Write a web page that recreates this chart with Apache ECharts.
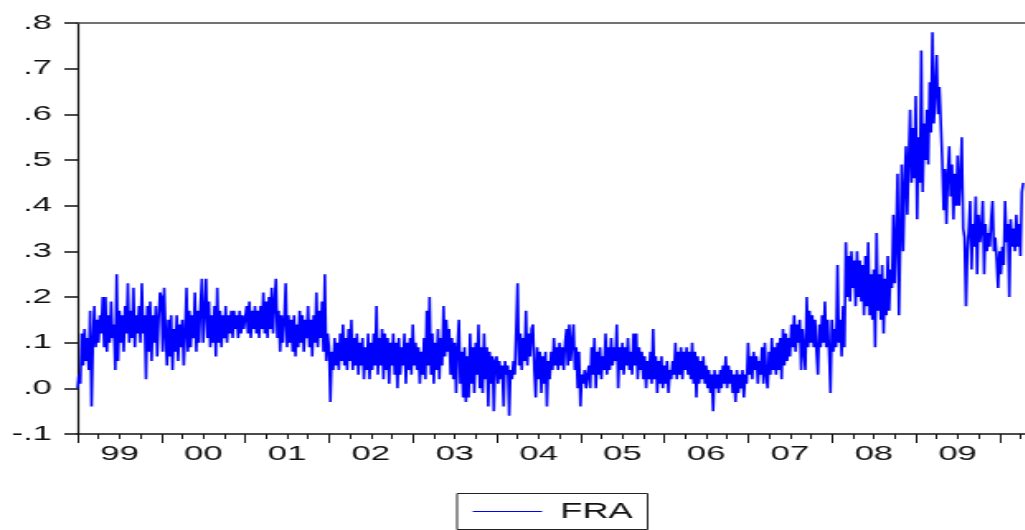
<!DOCTYPE html>
<html>
<head>
<meta charset="utf-8">
<title>FRA</title>
<script src="https://cdn.jsdelivr.net/npm/echarts@6/dist/echarts.min.js"></script>
<style>
  html, body { margin: 0; padding: 0; background: #fff; overflow: hidden; }
  #wrap { width: 1025px; height: 530px; overflow: hidden; position: relative; background: #fff; }
  /* the graph is laid out narrow and widened, like an exported EViews graph */
  #chart { width: 622px; height: 530px; transform: scaleX(1.65); transform-origin: 0 0; }
</style>
</head>
<body>
<div id="wrap"><div id="chart"></div></div>
<script>
// FRA, daily observations thinned to 60 readings per year (1999 - early 2010)
const fra1999 = [.00,.03,.01,.12,.05,.13,.06,.11,.04,.17, -.04,.10,.18,.09,.15,.10,.16,.12,.20,.09,
                 .20,.08,.16,.10,.19,.11,.14,.04,.25,.06, .17,.10,.16,.08,.18,.12,.23,.10,.17,.11,
                 .22,.09,.16,.12,.18,.10,.23,.12,.16,.02, .18,.08,.19,.06,.16,.10,.18,.07,.15,.21];
const fra2000 = [.20,.08,.22,.12,.05,.15,.07,.16,.04,.13, .08,.16,.06,.14,.09,.15,.05,.12,.22,.08,
                 .17,.09,.16,.11,.21,.08,.17,.10,.18,.24, .10,.17,.24,.11,.19,.09,.16,.10,.18,.07,
                 .22,.10,.17,.09,.16,.11,.18,.10,.16,.12, .17,.11,.17,.13,.16,.11,.17,.12,.16,.13];
const fra2001 = [.13,.18,.12,.19,.11,.17,.13,.18,.12,.17, .11,.18,.13,.21,.12,.19,.11,.20,.13,.22,
                 .12,.19,.24,.11,.17,.08,.16,.10,.15,.23, .09,.16,.10,.15,.08,.16,.07,.14,.09,.17,
                 .10,.16,.08,.15,.11,.18,.09,.15,.07,.16, .10,.21,.09,.17,.11,.19,.08,.25,.06,.12];
const fra2002 = [.09,-.03,.08,.04,.11,.05,.10,.04,.12,.06, .14,.05,.11,.04,.13,.06,.15,.04,.11,.05,
                 .12,.03,.10,.05,.11,.02,.09,.04,.12,.02, .10,.04,.12,.05,.18,.03,.11,.05,.13,.02,
                 .12,.04,.11,.01,.10,.05,.12,.03,.10,.00, .11,.03,.09,.05,.12,.01,.10,.04,.11,.03];
const fra2003 = [.14,.05,.10,.04,.09,.01,.08,.03,.11,.02, .17,.05,.20,.03,.12,.01,.10,.04,.13,.02,
                 .11,.05,.18,.07,.15,.08,.13,.03,.11,.02, .10,-.01,.09,.15,.01,.08,-.02,.09,-.03,.07,
                 -.02,.12,.01,.09,-.01,.10,.03,.14,.00,.09, -.01,.12,.02,.09,-.04,.08,.01,.07,-.05,.06];
const fra2004 = [.07,.01,.06,.02,.05,-.04,.06,.03,.05,-.06, .04,.02,.06,.03,.13,.23,.05,.12,.04,.11,
                 .06,.17,.05,.12,.07,.13,.14,.04,-.02,.09, .02,.08,-.01,.07,.01,.08,-.04,.06,.02,.08,
                 .04,.11,.05,.09,.04,.10,.05,.09,.04,.10, .13,.05,.14,.06,.10,.14,.04,.09,.00,.08];
const fra2005 = [-.04,.03,.01,.04,.00,.03,.05,.00,.09,.03, .11,.00,.08,.03,.09,.02,.07,.04,.12,.03,
                 .09,.04,.11,.05,.09,.06,.14,.00,.09,.04, .10,.03,.09,.05,.11,.04,.08,.03,.12,.05,
                 .12,.02,.09,.04,.08,.02,.07,.00,.06,.02, .08,.01,.13,.02,.07,-.01,.06,.01,.07,.00];
const fra2006 = [.05,.01,.06,-.01,.04,.02,.06,.03,.10,.02, .08,.03,.09,.02,.08,.04,.09,.03,.08,.02,
                 .10,.01,.08,-.02,.07,.01,.06,.02,.07,.01, .05,.00,.04,-.01,.03,-.05,.04,.00,.03,-.01,
                 .04,.00,.05,.01,.07,.00,.05,.01,.04,-.01, .03,-.03,.04,-.01,.03,.00,.04,-.02,.03,.01];
const fra2007 = [.10,.03,.07,.02,.08,.04,.07,.01,.06,.03, .09,.01,.10,.03,.00,.08,.03,.11,.04,.09,
                 .03,.10,.04,.11,.02,.13,.05,.12,.06,.11, .07,.14,.09,.16,.08,.14,.10,.15,.04,.13,
                 .08,.04,.20,.09,.17,.10,.16,.09,.15,.08, .03,.14,.09,.16,.10,.19,.09,.15,.08,-.01];
const fra2008 = [.15,.08,.13,.09,.27,.10,.15,.07,.18,.09, .32,.20,.29,.19,.30,.22,.28,.18,.30,.20,
                 .28,.19,.27,.16,.29,.18,.32,.16,.25,.15, .26,.09,.34,.17,.25,.15,.27,.12,.24,.16,
                 .29,.17,.26,.22,.38,.23,.33,.47,.16,.33, .49,.30,.44,.53,.38,.50,.61,.45,.57,.46];
const fra2009 = [.64,.37,.55,.45,.74,.43,.58,.50,.61,.49, .67,.56,.78,.58,.65,.73,.60,.66,.58,.50,
                 .39,.48,.36,.47,.53,.42,.49,.37,.47,.40, .51,.40,.46,.55,.35,.33,.18,.30,.35,.41,
                 .26,.36,.31,.42,.25,.38,.32,.35,.41,.25, .36,.30,.34,.31,.37,.41,.30,.33,.28,.22];
const fra2010 = [.30,.25,.31,.27,.41,.32,.36,.20,.37,.31, .35,.30,.38,.31,.36,.29,.43,.45];

const firstYear = 1999;
const readingsPerYear = 60;
const fraByYear = [fra1999, fra2000, fra2001, fra2002, fra2003, fra2004, fra2005, fra2006, fra2007, fra2008, fra2009, fra2010];

// year labels, centred in each year
const yearLabels = ['99','00','01','02','03','04','05','06','07','08','09'];
const yTicks = [-0.1, 0, 0.1, 0.2, 0.3, 0.4, 0.5, 0.6, 0.7, 0.8];

const series = [];
fraByYear.forEach((vals, yi) => {
  vals.forEach((v, k) => series.push([firstYear + yi + k / readingsPerYear, v]));
});

const yearTicks = [];
for (let y = firstYear; y <= firstYear + yearLabels.length; y++) yearTicks.push(y);
const labelPos = yearLabels.map((_, i) => firstYear + i + 0.5);
const quarterTicks = [];
for (let y = firstYear; y < firstYear + yearLabels.length + 1; y++) {
  quarterTicks.push(y + 0.25, y + 0.5, y + 0.75);
}

const font = "'Liberation Sans', Arial, sans-serif";
const ink = '#111';
const xMin = 1999, xMax = 2010.31;

const chart = echarts.init(document.getElementById('chart'), null, { renderer: 'canvas' });
chart.setOption({
  animation: false,
  backgroundColor: '#fff',
  grid: { left: 47, top: 23, width: 574.5, height: 411 },
  legend: {
    left: 277, top: 493.5,
    padding: [6, 9, 6, 9.5],
    borderColor: '#222', borderWidth: 1,
    itemWidth: 42, itemHeight: 1.2, icon: 'rect',
    textStyle: { fontFamily: font, fontSize: 22, color: ink, lineHeight: 24, padding: [0, 0, 0, 6] },
    data: [{ name: 'FRA', itemStyle: { color: '#0000ff' } }]
  },
  xAxis: [
    {
      type: 'value', min: xMin, max: xMax, position: 'bottom',
      axisLine: { show: true, onZero: false, lineStyle: { color: ink, width: 1.5 } },
      axisTick: { show: true, customValues: yearTicks, length: 9, lineStyle: { color: ink, width: 1 } },
      axisLabel: {
        customValues: labelPos, margin: 10,
        fontFamily: font, fontSize: 21, color: ink,
        formatter: v => yearLabels[Math.round(v - 0.5) - firstYear]
      },
      splitLine: { show: false }
    },
    {
      type: 'value', min: xMin, max: xMax, position: 'bottom',
      axisLine: { show: false, onZero: false },
      axisTick: { show: true, customValues: quarterTicks.filter(q => q < xMax), length: 5, lineStyle: { color: ink, width: 1 } },
      axisLabel: { show: false },
      splitLine: { show: false }
    },
    {
      type: 'value', min: xMin, max: xMax, position: 'top',
      axisLine: { show: true, onZero: false, lineStyle: { color: '#444', width: 1.5 } },
      axisTick: { show: false }, axisLabel: { show: false }, splitLine: { show: false }
    }
  ],
  yAxis: {
    type: 'value', min: -0.1, max: 0.8, interval: 0.1,
    axisLine: { show: true, onZero: false, lineStyle: { color: ink, width: 1.2 } },
    axisTick: { show: true, length: 8, lineStyle: { color: ink, width: 1.5 } },
    axisLabel: {
      margin: 15.5, fontFamily: font, fontSize: 21, color: ink,
      customValues: yTicks,
      formatter: v => v.toFixed(1).replace('0.', '.')
    },
    splitLine: { show: false }
  },
  series: [{
    name: 'FRA', type: 'line', xAxisIndex: 0,
    data: series,
    symbol: 'none', showSymbol: false, sampling: null,
    lineStyle: { color: '#0000ff', width: 1.6 },
    itemStyle: { color: '#0000ff' }
  }]
});
</script>
</body>
</html>
